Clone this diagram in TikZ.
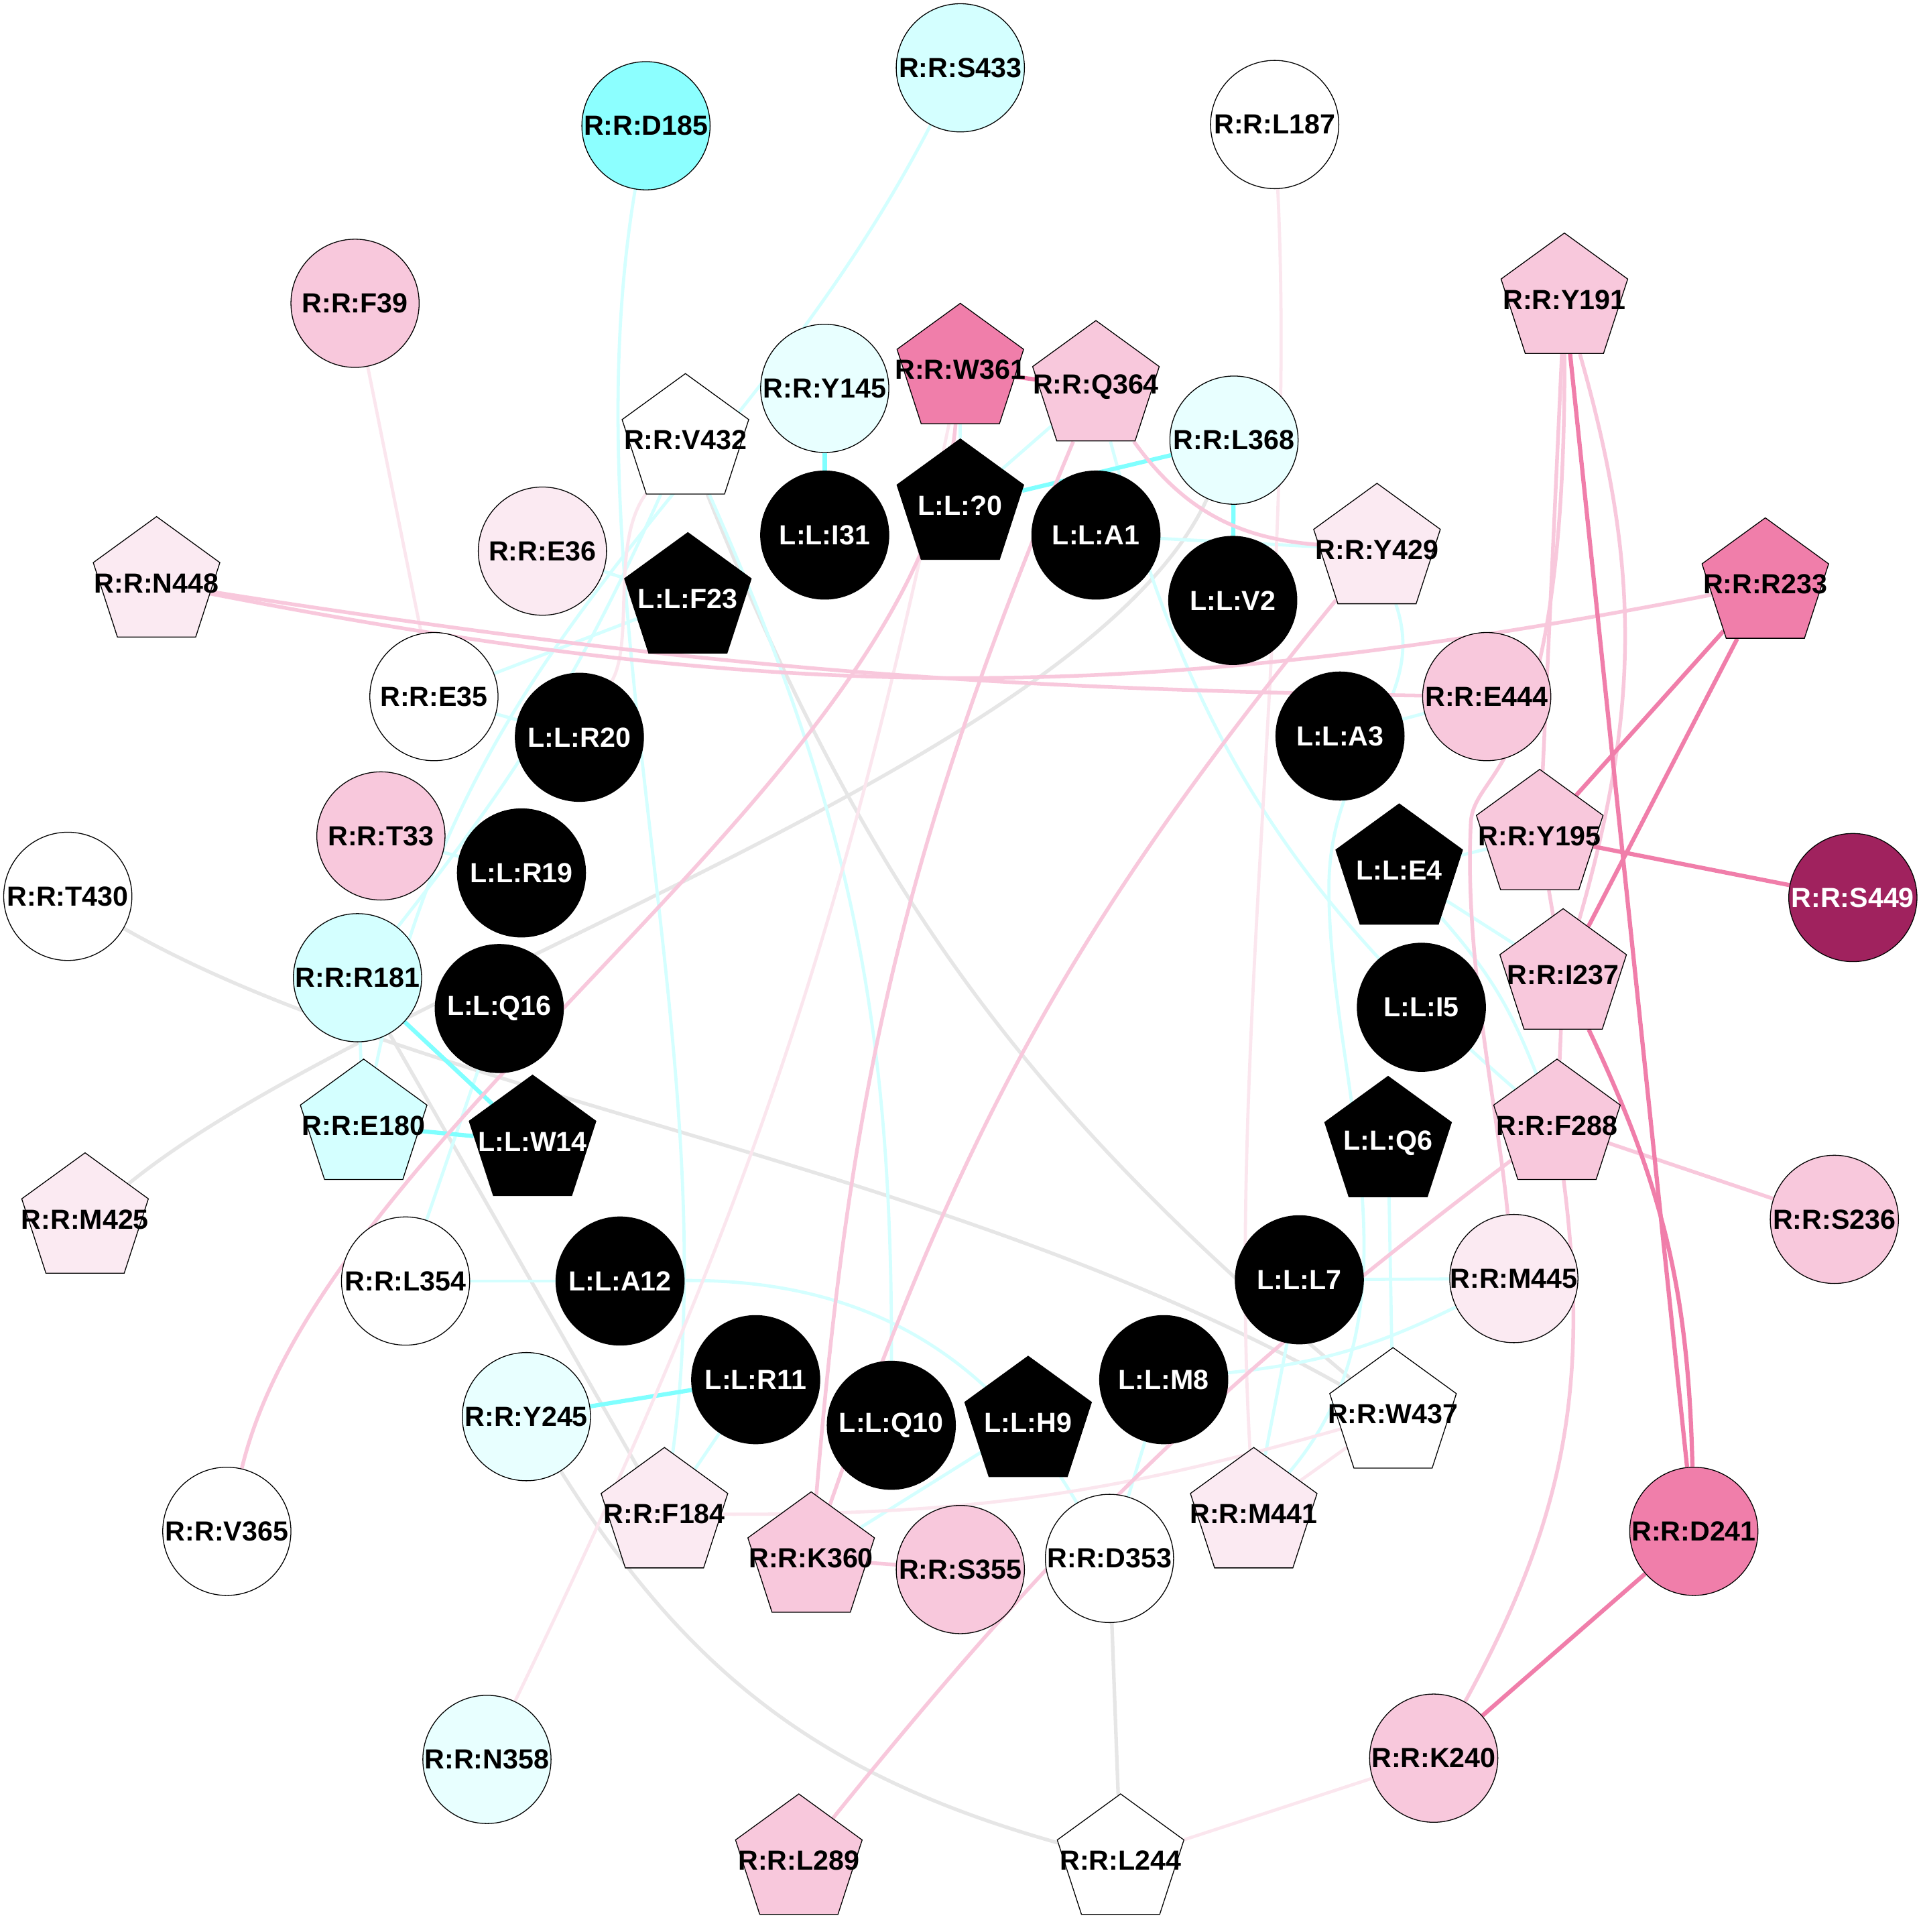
\documentclass[tikz,border=0pt]{standalone}
\usepackage{fontspec}
\setmainfont{Liberation Sans}
\usetikzlibrary{shapes.geometric,backgrounds}
\definecolor{cyanhi}{RGB}{140,255,255}
\definecolor{cyanmid}{RGB}{212,255,255}
\definecolor{cyanlo}{RGB}{232,255,255}
\definecolor{pinkmid}{RGB}{248,200,220}
\definecolor{pinklo}{RGB}{251,234,242}
\definecolor{pinkhi}{RGB}{240,126,170}
\definecolor{plum}{RGB}{160,34,94}
\definecolor{edgecy}{RGB}{212,255,255}
\definecolor{edgecyhi}{RGB}{128,255,255}
\definecolor{edgegrey}{RGB}{230,230,230}
\definecolor{edgepk}{RGB}{248,200,220}
\definecolor{edgelpk}{RGB}{251,230,238}
\definecolor{edgedpk}{RGB}{240,126,170}
\newcommand*\lab[1]{\makebox[0pt]{#1}}
\tikzset{
	res/.style={
		circle,
		draw=black, line width=0.35pt,
		minimum size=52pt,
		inner sep=0pt,
		font=\fontsize{11.2}{11.2}\selectfont\bfseries},
	respent/.style={
		res,
		regular polygon,
		regular polygon sides=5,
		minimum size=54pt},
	lig/.style={res, fill=black, text=white},
	ligpent/.style={respent, fill=black, text=white},
	cyedge/.style={draw=edgecy, line width=1.3pt},
	cyhiedge/.style={draw=edgecyhi, line width=1.7pt},
	gredge/.style={draw=edgegrey, line width=1.45pt},
	pkedge/.style={draw=edgepk, line width=1.5pt},
	lpkedge/.style={draw=edgelpk, line width=1.3pt},
	dpkedge/.style={draw=edgedpk, line width=1.7pt},
}

\begin{document}
\begin{tikzpicture}[x=0.5pt, y=0.5pt]
\useasboundingbox (0,0) rectangle (1558,-1567);

% receptor residues, circles
\node[res, fill=cyanmid] (S433) at (779,-55) {\lab{R:R:S433}};
\node[res, fill=cyanhi] (D185) at (524,-102) {\lab{R:R:D185}};
\node[res, fill=white] (L187) at (1034,-101) {\lab{R:R:L187}};
\node[res, fill=pinkmid] (F39) at (288,-246) {\lab{R:R:F39}};
\node[res, fill=cyanlo] (Y145) at (669,-315) {\lab{R:R:Y145}};
\node[res, fill=cyanlo] (L368) at (1001,-357) {\lab{R:R:L368}};
\node[res, fill=pinklo] (E36) at (440,-447) {\lab{R:R:E36}};
\node[res, fill=white] (E35) at (352,-565) {\lab{R:R:E35}};
\node[res, fill=pinkmid] (E444) at (1206,-565) {\lab{R:R:E444}};
\node[res, fill=pinkmid] (T33) at (309,-678) {\lab{R:R:T33}};
\node[res, fill=white] (T430) at (55,-727) {\lab{R:R:T430}};
\node[res, fill=plum, text=white] (S449) at (1503,-728) {\lab{R:R:S449}};
\node[res, fill=cyanmid] (R181) at (290,-793) {\lab{R:R:R181}};
\node[res, fill=pinkmid] (S236) at (1488,-989) {\lab{R:R:S236}};
\node[res, fill=white] (L354) at (329,-1039) {\lab{R:R:L354}};
\node[res, fill=pinklo] (M445) at (1228,-1037) {\lab{R:R:M445}};
\node[res, fill=cyanlo] (Y245) at (427,-1149) {\lab{R:R:Y245}};
\node[res, fill=white] (V365) at (184,-1242) {\lab{R:R:V365}};
\node[res, fill=pinkhi] (D241) at (1374,-1242) {\lab{R:R:D241}};
\node[res, fill=pinkmid] (S355) at (779,-1273) {\lab{R:R:S355}};
\node[res, fill=white] (D353) at (900,-1264) {\lab{R:R:D353}};
\node[res, fill=cyanlo] (N358) at (395,-1427) {\lab{R:R:N358}};
\node[res, fill=pinkmid] (K240) at (1163,-1426) {\lab{R:R:K240}};

% receptor residues, pentagons
\node[respent, fill=pinkhi] (W361) at (779,-300) {\lab{R:R:W361}};
\node[respent, fill=pinkmid] (Q364) at (889,-314) {\lab{R:R:Q364}};
\node[respent, fill=white] (V432) at (556,-357) {\lab{R:R:V432}};
\node[respent, fill=pinkmid] (Y191) at (1269,-243) {\lab{R:R:Y191}};
\node[respent, fill=pinklo] (Y429) at (1117,-446) {\lab{R:R:Y429}};
\node[respent, fill=pinklo] (N448) at (127,-473) {\lab{R:R:N448}};
\node[respent, fill=pinkhi] (R233) at (1432,-474) {\lab{R:R:R233}};
\node[respent, fill=pinkmid] (Y195) at (1249,-678) {\lab{R:R:Y195}};
\node[respent, fill=pinkmid] (I237) at (1268,-791) {\lab{R:R:I237}};
\node[respent, fill=cyanmid] (E180) at (295,-913) {\lab{R:R:E180}};
\node[respent, fill=pinkmid] (F288) at (1263,-913) {\lab{R:R:F288}};
\node[respent, fill=pinklo] (M425) at (69,-989) {\lab{R:R:M425}};
\node[respent, fill=white] (W437) at (1130,-1147) {\lab{R:R:W437}};
\node[respent, fill=pinklo] (F184) at (539,-1228) {\lab{R:R:F184}};
\node[respent, fill=pinkmid] (K360) at (658,-1264) {\lab{R:R:K360}};
\node[respent, fill=pinklo] (M441) at (1017,-1228) {\lab{R:R:M441}};
\node[respent, fill=pinkmid] (L289) at (648,-1509) {\lab{R:R:L289}};
\node[respent, fill=white] (L244) at (909,-1509) {\lab{R:R:L244}};

% ligand residues
\node[lig] (I31) at (669,-434) {\lab{L:L:I31}};
\node[lig] (A1) at (889,-434) {\lab{L:L:A1}};
\node[lig] (V2) at (1000,-487) {\lab{L:L:V2}};
\node[lig] (R20) at (470,-598) {\lab{L:L:R20}};
\node[lig] (A3) at (1087,-597) {\lab{L:L:A3}};
\node[lig] (R19) at (423,-708) {\lab{L:L:R19}};
\node[lig] (Q16) at (405,-818) {\lab{L:L:Q16}};
\node[lig] (I5) at (1153,-817) {\lab{L:L:I5}};
\node[lig] (A12) at (503,-1039) {\lab{L:L:A12}};
\node[lig] (L7) at (1054,-1038) {\lab{L:L:L7}};
\node[lig] (R11) at (613,-1119) {\lab{L:L:R11}};
\node[lig] (M8) at (944,-1119) {\lab{L:L:M8}};
\node[lig] (Q10) at (723,-1156) {\lab{L:L:Q10}};
\node[ligpent] (L0) at (779,-410) {\lab{L:L:?0}};
\node[ligpent] (F23) at (558,-486) {\lab{L:L:F23}};
\node[ligpent] (E4) at (1135,-706) {\lab{L:L:E4}};
\node[ligpent] (W14) at (432,-926) {\lab{L:L:W14}};
\node[ligpent] (Q6) at (1126,-927) {\lab{L:L:Q6}};
\node[ligpent] (H9) at (834,-1154) {\lab{L:L:H9}};

\begin{scope}[on background layer]
% grey
\draw[gredge] (V432) to[bend right=14] (W437);
\draw[gredge] (T430) .. controls (340,-890) and (760,-940) .. (W437);
\draw[gredge] (M425) .. controls (300,-800) and (880,-620) .. (L368);
\draw[gredge] (R181) -- (F184);
\draw[gredge] (Y245) to[bend right=21] (L244);
\draw[gredge] (D353) -- (L244);
% light cyan
\draw[cyedge] (D185) .. controls (460,-480) and (590,-850) .. (F184);
\draw[cyedge] (S433) .. controls (600,-400) and (380,-500) .. (E180);
\draw[cyedge] (V432) to[bend left=7] (R181);
\draw[cyedge] (V432) to[bend left=12] (Q10);
\draw[cyedge] (T33) -- (R19);
\draw[cyedge] (E35) -- (R20);
\draw[cyedge] (F23) -- (E35);
\draw[cyedge] (E36) -- (F23);
\draw[cyedge] (Q16) -- (L354);
\draw[cyedge] (R181) -- (E180);
\draw[cyedge] (A12) -- (L354);
\draw[cyedge] (A12) to[bend left=30] (D353);
\draw[cyedge] (R11) -- (F184);
\draw[cyedge] (K360) -- (H9);
\draw[cyedge] (M8) -- (D353);
\draw[cyedge] (M8) to[bend right=10] (M445);
\draw[cyedge] (L7) -- (M441);
\draw[cyedge] (A3) -- (E444);
\draw[cyedge] (L7) -- (M445);
\draw[cyedge] (Q6) -- (W437);
\draw[cyedge] (E4) -- (Y195);
\draw[cyedge] (E4) -- (I237);
\draw[cyedge] (E4) to[bend left=10] (F288);
\draw[cyedge] (Q364) to[bend right=17] (F288);
\draw[cyedge] (W361) -- (L0);
\draw[cyedge] (L0) -- (Q364);
\draw[cyedge] (A1) -- (Y429);
\draw[cyedge] (Y429) .. controls (1160,-570) and (1078,-610) .. (1078,-720)
	.. controls (1078,-880) and (1160,-1060) .. (M441);
% strong cyan
\draw[cyhiedge] (Y145) -- (I31);
\draw[cyhiedge] (L0) -- (L368);
\draw[cyhiedge] (L368) -- (V2);
\draw[cyhiedge] (R181) -- (W14);
\draw[cyhiedge] (E180) -- (W14);
\draw[cyhiedge] (Y245) -- (R11);
% light pink
\draw[lpkedge] (F39) -- (E35);
\draw[lpkedge] (L187) .. controls (1052,-480) and (995,-850) .. (M441);
\draw[lpkedge] (N358) to[bend right=7] (W361);
\draw[lpkedge] (F184) to[bend right=8] (W437);
\draw[lpkedge] (M441) -- (W437);
\draw[lpkedge] (K240) -- (L244);
\draw[lpkedge] (V432) .. controls (495,-440) and (515,-520) .. (R20);
% pink
\draw[pkedge] (N448) to[bend right=4] (E444);
\draw[pkedge] (N448) to[bend right=11] (R233);
\draw[pkedge] (Y191) -- (Y195);
\draw[pkedge] (Y191) to[bend left=16] (I237);
\draw[pkedge] (Y191) .. controls (1270,-640) and (1193,-620) .. (1193,-670)
	.. controls (1188,-780) and (1215,-900) .. (M445);
\draw[pkedge] (Y195) -- (I237);
\draw[pkedge] (I237) -- (F288);
\draw[pkedge] (F288) -- (S236);
\draw[pkedge] (F288) to[bend left=18] (K240);
\draw[pkedge] (F288) to[bend right=7] (L289);
\draw[pkedge] (Q364) to[bend right=25] (Y429);
\draw[pkedge] (Q364) to[bend right=9] (K360);
\draw[pkedge] (Y429) to[bend right=10] (K360);
\draw[pkedge] (W361) .. controls (750,-630) and (262,-915) .. (V365);
\draw[pkedge] (K360) -- (S355);
% dark pink
\draw[dpkedge] (W361) -- (Q364);
\draw[dpkedge] (Y191) -- (D241);
\draw[dpkedge] (I237) to[bend left=12] (D241);
\draw[dpkedge] (R233) -- (Y195);
\draw[dpkedge] (R233) -- (I237);
\draw[dpkedge] (Y195) -- (S449);
\draw[dpkedge] (D241) -- (K240);
\end{scope}
\end{tikzpicture}
\end{document}
